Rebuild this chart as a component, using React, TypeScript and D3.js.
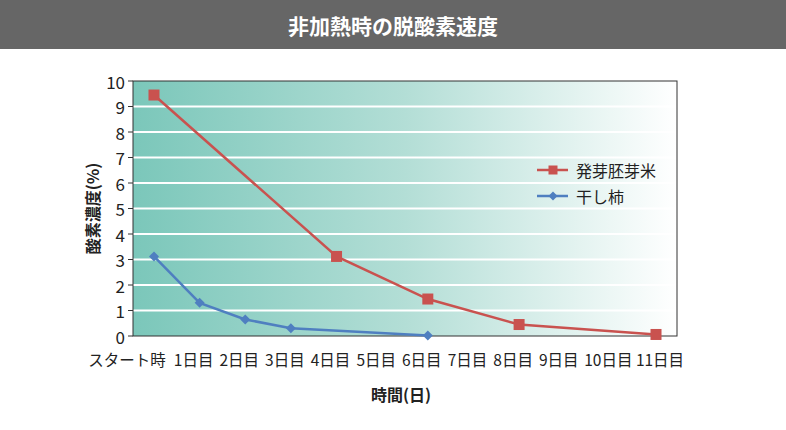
import React, { useEffect } from 'react';
import * as d3 from 'd3';

// x categories (days)
const categories = ['スタート時', '1日目', '2日目', '3日目', '4日目', '5日目', '6日目', '7日目', '8日目', '9日目', '10日目', '11日目'];
const yTicks = [0, 1, 2, 3, 4, 5, 6, 7, 8, 9, 10];

// 発芽胚芽米
const riceDays = ['スタート時', '4日目', '6日目', '8日目', '11日目'];
const riceValues = [9.45, 3.12, 1.45, 0.45, 0.06];

// 干し柿
const persimmonDays = ['スタート時', '1日目', '2日目', '3日目', '6日目'];
const persimmonValues = [3.12, 1.3, 0.65, 0.3, 0.02];

const W = 786;
const H = 430;
const margin = { top: 81, right: 109, bottom: 94, left: 133 };
const FONT = '"Noto Sans CJK JP", "Noto Sans", sans-serif';
const RED = '#c9524f';
const BLUE = '#4f7fc0';

// label nudges, the tick labels are not quite centred under the points
function labelShift(i: number) {
  if (i === 0) return -27;
  if (i === 10) return -2;
  if (i === 11) return 4;
  return -6;
}

export default function App() {
  useEffect(() => {
    document.body.style.margin = '0';
  }, []);

  const x = d3.scalePoint<string>()
    .domain(categories)
    .range([margin.left, W - margin.right])
    .padding(0.46);
  const y = d3.scaleLinear().domain([0, 10]).range([H - margin.bottom, margin.top]);

  const line = d3.line<[string, number]>()
    .x(d => x(d[0]) as number)
    .y(d => y(d[1]));

  const rice: [string, number][] = riceDays.map((d, i) => [d, riceValues[i]]);
  const persimmon: [string, number][] = persimmonDays.map((d, i) => [d, persimmonValues[i]]);

  const x0 = margin.left;
  const x1 = W - margin.right;
  const y0 = y(0);
  const y1 = y(10);

  const square = (cx: number, cy: number, s: number, key: string) => (
    <rect key={key} x={cx - s / 2} y={cy - s / 2} width={s} height={s} fill={RED} />
  );
  const diamond = (cx: number, cy: number, r: number, key: string) => (
    <path key={key} d={`M${cx},${cy - r}L${cx + r},${cy}L${cx},${cy + r}L${cx - r},${cy}Z`} fill={BLUE} />
  );

  return (
    <svg width={W} height={H} style={{ display: 'block', fontFamily: FONT }}>
      <defs>
        <linearGradient id="bg" x1="0" x2="1" y1="0" y2="0">
          <stop offset="0" stopColor="#7bc7ba" />
          <stop offset="0.5" stopColor="#b3ded6" />
          <stop offset="1" stopColor="#ffffff" />
        </linearGradient>
      </defs>
      <rect x={0} y={0} width={W} height={H} fill="#fff" />
      <rect x={0} y={0} width={W} height={49} fill="#666666" />
      <text x={W / 2} y={25} textAnchor="middle" dominantBaseline="central" fill="#fff" fontSize={21} fontWeight="bold">
        非加熱時の脱酸素速度
      </text>

      <rect x={x0} y={y1} width={x1 - x0} height={y0 - y1} fill="url(#bg)" />
      {yTicks.slice(1, -1).map(t => (
        <line key={t} x1={x0} x2={x1} y1={y(t)} y2={y(t)} stroke="#fff" strokeWidth={2} />
      ))}
      <rect x={x0} y={y1} width={x1 - x0} height={y0 - y1} fill="none" stroke="#333" strokeWidth={1} />

      {yTicks.map(t => (
        <g key={t}>
          <line x1={x0 - 5} x2={x0} y1={y(t)} y2={y(t)} stroke="#333" />
          <text x={x0 - 8} y={y(t)} textAnchor="end" dominantBaseline="central" fontSize={17} fill="#222">
            {t}
          </text>
        </g>
      ))}

      {categories.map((c, i) => (
        <text key={c} x={(x(c) as number) + labelShift(i)} y={359} textAnchor="middle" dominantBaseline="central" fontSize={15.5} fill="#222">
          {c}
        </text>
      ))}

      <text x={401} y={394} textAnchor="middle" dominantBaseline="central" fontSize={16} fontWeight="bold" fill="#222">
        時間(日)
      </text>
      <text transform={`translate(92,${(y0 + y1) / 2}) rotate(-90)`} textAnchor="middle" dominantBaseline="central" fontSize={16} fontWeight="bold" fill="#222">
        酸素濃度(%)
      </text>

      <path d={line(rice) || ''} fill="none" stroke={RED} strokeWidth={2.5} />
      {rice.map(d => square(x(d[0]) as number, y(d[1]), 11, 'r' + d[0]))}
      <path d={line(persimmon) || ''} fill="none" stroke={BLUE} strokeWidth={2.5} />
      {persimmon.map(d => diamond(x(d[0]) as number, y(d[1]), 5, 'p' + d[0]))}

      <g>
        <line x1={537} x2={568} y1={170} y2={170} stroke={RED} strokeWidth={2.5} />
        {square(553, 170, 9, 'lr')}
        <text x={576} y={170} dominantBaseline="central" fontSize={16} fill="#222">発芽胚芽米</text>
        <line x1={537} x2={568} y1={196} y2={196} stroke={BLUE} strokeWidth={2.5} />
        {diamond(553, 196, 4.5, 'lp')}
        <text x={576} y={196} dominantBaseline="central" fontSize={16} fill="#222">干し柿</text>
      </g>
    </svg>
  );
}
